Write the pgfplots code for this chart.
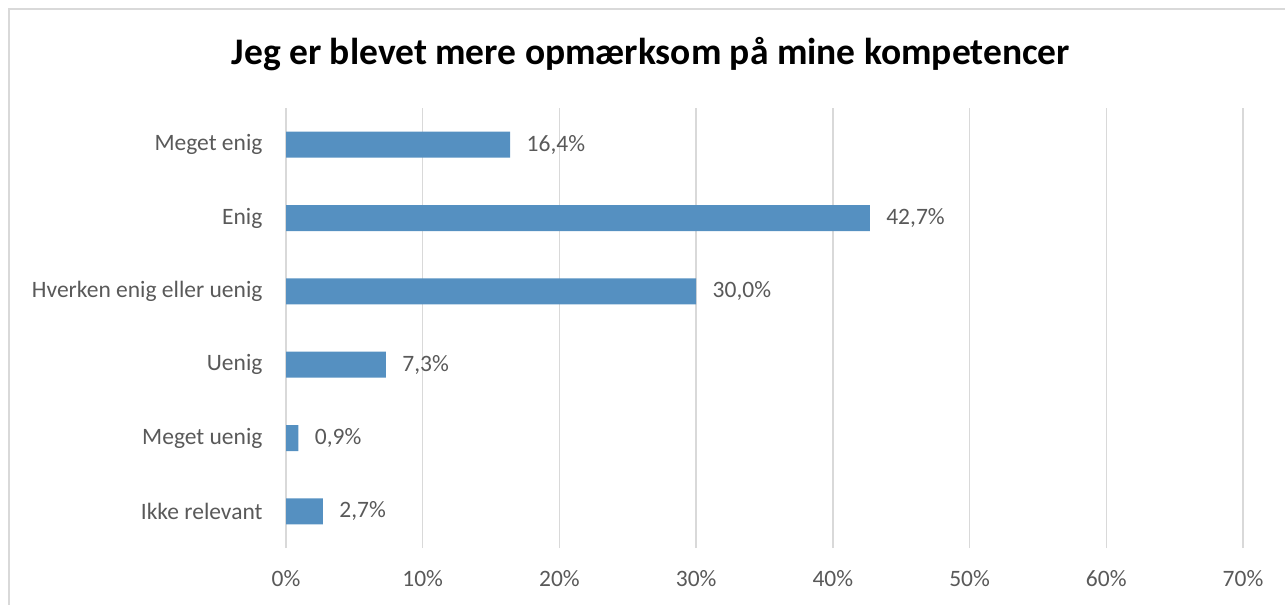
\documentclass[border=0pt]{standalone}
\usepackage{pgfplots}
\pgfplotsset{compat=1.18}
\usepackage{fontspec}
\setmainfont{Carlito}
\definecolor{barblue}{HTML}{5590C1}
\definecolor{gridgray}{HTML}{D9D9D9}
\definecolor{txtgray}{HTML}{595959}
\definecolor{bordergray}{HTML}{D9D9D9}
\begin{document}
\begin{tikzpicture}[x=1pt,y=1pt]
\path[use as bounding box] (0,0) rectangle (1285,605);
\draw[bordergray,line width=1.5pt] (9,0) -- (9,596) -- (1285,596);
\node[font=\fontsize{37.5}{42}\selectfont\bfseries,text=black] at (651,551) {Jeg er blevet mere opmærksom på mine kompetencer};
\begin{axis}[
  at={(286pt,57pt)}, anchor=south west,
  scale only axis, width=957pt, height=440pt,
  xbar, bar width=26pt,
  xmin=0, xmax=70, ymin=-0.5, ymax=5.5,
  xtick={0,10,...,70},
  xticklabel={\pgfmathprintnumber{\tick}\%},
  ytick={0,1,2,3,4,5},
  yticklabels={Ikke relevant,Meget uenig,Uenig,Hverken enig eller uenig,Enig,Meget enig},
  axis line style={draw=none},
  major tick length=0pt,
  xmajorgrids, grid style={gridgray,line width=1.5pt},
  tick label style={font=\fontsize{23.5}{27}\selectfont,text=txtgray},
  /pgf/number format/assume math mode=true,
  xticklabel style={yshift=-19pt},
  yticklabel style={xshift=-20pt},
  nodes near coords={\pgfmathprintnumber[fixed,fixed zerofill,precision=1,use comma]{\pgfplotspointmeta}\%},
  nodes near coords style={font=\fontsize{23.5}{27}\selectfont,text=txtgray,anchor=west,xshift=13pt},
  point meta=explicit,
]
\addplot[fill=barblue,draw=none] coordinates {
(2.7,0) [2.7]
(0.9,1) [0.9]
(7.3,2) [7.3]
(30.0,3) [30.0]
(42.7,4) [42.7]
(16.4,5) [16.4]
};
\end{axis}
\end{tikzpicture}
\end{document}
